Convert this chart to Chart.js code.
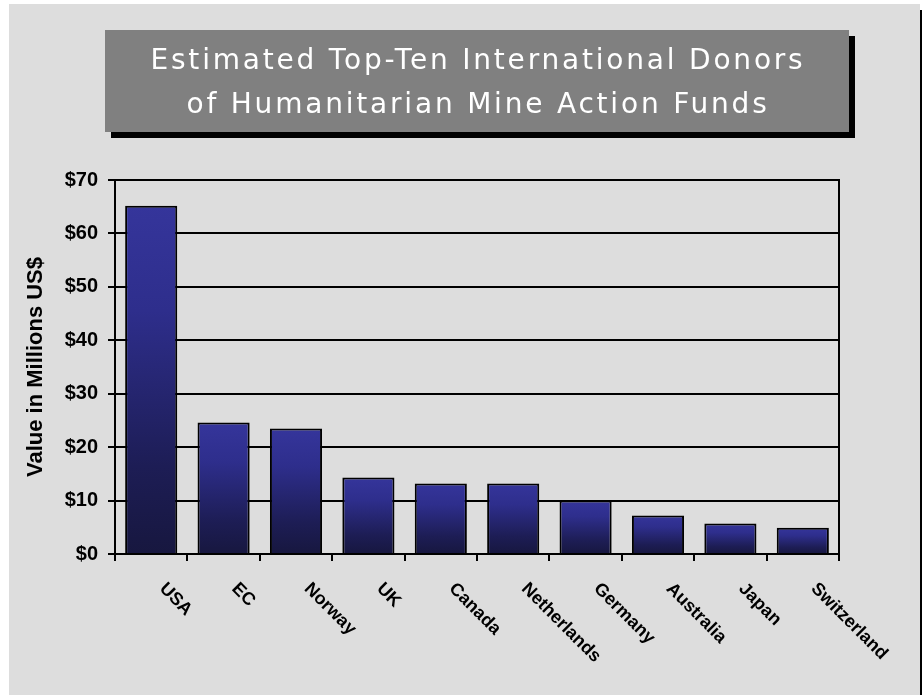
<!DOCTYPE html>
<html>
<head>
<meta charset="utf-8">
<title>Top-Ten Mine Action Donors</title>
<script src="https://cdn.jsdelivr.net/npm/chart.js@4/dist/chart.umd.min.js"></script>
<style>
  html, body { margin: 0; padding: 0; background: #ffffff; }
  #wrap { width: 922px; height: 695px; }
</style>
</head>
<body>
<div id="wrap"><canvas id="donorChart" width="922" height="695"></canvas></div>
<script>
// ---------------------------------------------------------------
// Estimated top-ten donors of humanitarian mine action funds
// values, millions of US$
// ---------------------------------------------------------------
const titleLines = [
    'Estimated Top-Ten International Donors',
    'of Humanitarian Mine Action Funds',
];
const donors = ['USA', 'EC', 'Norway', 'UK', 'Canada', 'Netherlands', 'Germany', 'Australia', 'Japan', 'Switzerland'];
const fundsMillions = [65.2, 24.6, 23.5, 14.3, 13.2, 13.2, 10.0, 7.2, 5.7, 4.9];
const yAxisTitle = 'Value in Millions US$';
const yMax = 70;
const yStep = 10;

Chart.defaults.font.family = '"Liberation Sans", Arial, sans-serif';
Chart.defaults.color = '#000000';

// page frame + grey title box with its drop shadow and the spaced title text
const backdrop = {
    id: 'backdrop',
    beforeDraw: function (chart) {
        const ctx = chart.ctx;
        ctx.save();
        ctx.fillStyle = '#ffffff';
        ctx.fillRect(0, 0, chart.width, chart.height);
        ctx.fillStyle = '#dddddd';
        ctx.fillRect(9, 4, 911, chart.height - 4);
        ctx.fillStyle = '#000000';
        ctx.fillRect(920, 10, 2, chart.height - 10);
        // title box
        ctx.fillRect(111, 36, 744, 102);
        ctx.fillStyle = '#808080';
        ctx.fillRect(105, 30, 744, 102);

        // centred over the plot area
        const cx = (chart.chartArea.left + chart.chartArea.right) / 2;
        ctx.fillStyle = '#ffffff';
        ctx.font = '28px "DejaVu Sans", Verdana, sans-serif';
        ctx.textAlign = 'center';
        ctx.textBaseline = 'alphabetic';
        if ('letterSpacing' in ctx) ctx.letterSpacing = '2.8px';
        ctx.fillText(titleLines[0], cx + 1, 69);
        ctx.fillText(titleLines[1], cx + 1, 113);
        if ('letterSpacing' in ctx) ctx.letterSpacing = '0px';
        ctx.restore();
    },
};

// rotated category labels (clockwise, text running down to the right)
const slantLabels = {
    id: 'slantLabels',
    afterDraw: function (chart) {
        const ctx = chart.ctx;
        const xs = chart.scales.x;
        ctx.save();
        ctx.font = 'bold 18px "Liberation Sans", Arial, sans-serif';
        ctx.fillStyle = '#000000';
        ctx.textAlign = 'left';
        ctx.textBaseline = 'middle';
        for (let i = 0; i < donors.length; i++) {
            const px = xs.getPixelForValue(i);
            ctx.save();
            ctx.translate(px + 11, xs.top + 32);
            ctx.rotate(Math.PI / 4);
            ctx.fillText(donors[i], 0, 0);
            ctx.restore();
        }
        ctx.restore();
    },
};

function barGradient(context) {
    const chart = context.chart;
    const ys = chart.scales.y;
    if (context.type !== 'data' || !ys) return '#2a2a80';
    const top = ys.getPixelForValue(context.raw);
    const base = ys.getPixelForValue(0);
    if (!isFinite(top) || !isFinite(base) || base - top < 1) return '#2a2a80';
    const g = chart.ctx.createLinearGradient(0, top, 0, base);
    g.addColorStop(0, '#35359b');
    g.addColorStop(0.3, '#2e2e8c');
    g.addColorStop(0.75, '#1d1d55');
    g.addColorStop(1, '#17173f');
    return g;
}

new Chart(document.getElementById('donorChart'), {
    type: 'bar',
    data: {
        labels: donors,
        datasets: [{
            label: yAxisTitle,
            data: fundsMillions,
            backgroundColor: barGradient,
            borderColor: '#000000',
            borderWidth: 2,
            barPercentage: 0.72,
            categoryPercentage: 1.0,
        }],
    },
    options: {
        responsive: false,
        animation: false,
        layout: { padding: { left: 0, right: 0, top: 180, bottom: 0 } },
        plugins: {
            legend: { display: false },
            tooltip: { enabled: false },
            title: { display: false },
        },
        scales: {
            x: {
                grid: {
                    display: true,
                    drawOnChartArea: false,
                    offset: true,
                    color: '#000000',
                    lineWidth: 2,
                    tickLength: 7,
                },
                border: { color: '#000000', width: 2 },
                ticks: { display: false },
                afterFit: function (scale) { scale.height = 141; },
            },
            y: {
                min: 0,
                max: yMax,
                grid: { color: '#000000', lineWidth: 2, tickLength: 7 },
                border: { color: '#000000', width: 2 },
                ticks: {
                    stepSize: yStep,
                    padding: 10,
                    font: { size: 20, weight: 'bold' },
                    callback: function (v) { return '$' + v; },
                },
                title: {
                    display: true,
                    text: yAxisTitle,
                    font: { size: 22, weight: 'bold' },
                    padding: { top: 23, bottom: 0 },
                },
                afterFit: function (scale) { scale.width = 115; },
            },
            yRight: {
                position: 'right',
                min: 0,
                max: yMax,
                grid: { display: false },
                border: { color: '#000000', width: 2 },
                ticks: { display: false },
                afterFit: function (scale) { scale.width = 83; },
            },
        },
    },
    plugins: [backdrop, slantLabels],
});
</script>
</body>
</html>
